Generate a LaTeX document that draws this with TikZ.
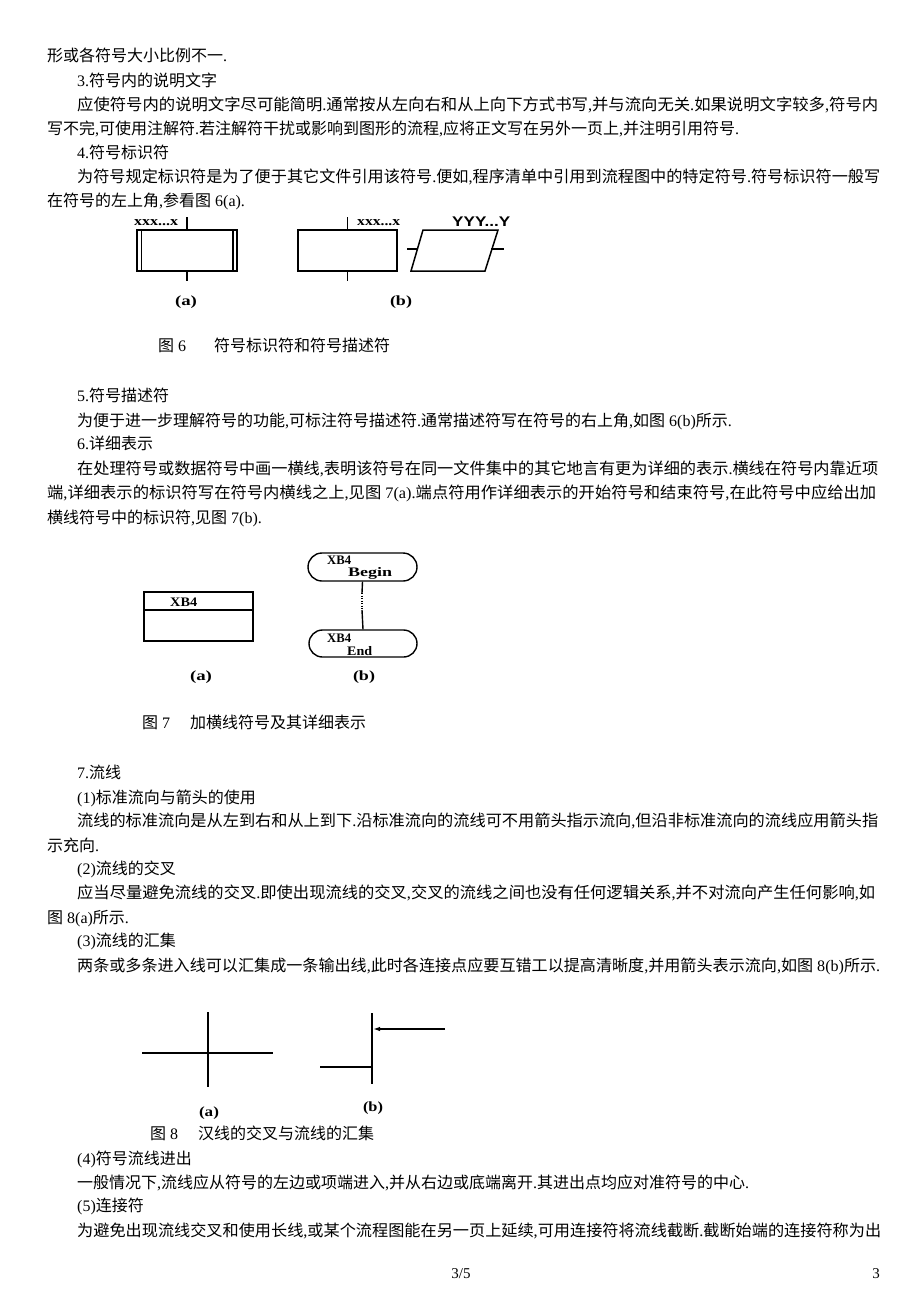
\documentclass[tikz,border=0pt]{standalone}
\usepackage{fontspec}
\usepackage{graphicx}
\setmainfont{Liberation Serif}
\newfontfamily\cjkf{Noto Sans CJK SC}
\newfontfamily\latserif{Liberation Serif}
\newfontfamily\latsans{Liberation Sans}
\newXeTeXintercharclass\mycjkclass
\count255="4E00
\loop
  \XeTeXcharclass\count255=\mycjkclass
  \advance\count255 by 1
\ifnum\count255<"A000 \repeat
\XeTeXinterchartokenstate=1
\XeTeXinterchartoks 0 \mycjkclass = {\cjkf}
\XeTeXinterchartoks 4095 \mycjkclass = {\cjkf}
\XeTeXinterchartoks \mycjkclass 0 = {\latserif}
\XeTeXinterchartoks \mycjkclass 4095 = {\latserif}
\usetikzlibrary{shapes.misc,arrows.meta}
\newcommand\fitw[2]{\resizebox{#1pt}{\height}{#2}}
\begin{document}
\begin{tikzpicture}[x=1pt,y=-1pt,
  txt/.style={anchor=base west, inner sep=0pt, font=\fontsize{16}{16}\selectfont},
  captxt/.style={anchor=base west, inner sep=0pt, font=\fontsize{16}{16}\selectfont},
  sub/.style={inner sep=0pt, font=\latserif\bfseries\fontsize{14}{14}\selectfont},
  idl/.style={inner sep=0pt, anchor=west, font=\latserif\bfseries\fontsize{13}{13}\selectfont},
  fl/.style={line width=1.5pt},
  box/.style={draw, line width=1.5pt, inner sep=0pt},
  term/.style={draw, line width=1.4pt, rounded rectangle, inner sep=0pt}]
\fill[white] (0,0) rectangle (920,1302);
\useasboundingbox (0,0) rectangle (920,1302);

% --- text block 1
\node[txt] (l1) at (47,61) {形或各符号大小比例不一.};
\node[txt] (l2) at (77,86) {3.符号内的说明文字};
\node[txt] (l3) at (77,110) {\fitw{801}{应使符号内的说明文字尽可能简明.通常按从左向右和从上向下方式书写,并与流向无关.如果说明文字较多,符号内}};
\node[txt] (l4) at (47,134) {写不完,可使用注解符.若注解符干扰或影响到图形的流程,应将正文写在另外一页上,并注明引用符号.};
\node[txt] (l5) at (77,158) {4.符号标识符};
\node[txt] (l6) at (77,182) {\fitw{803}{为符号规定标识符是为了便于其它文件引用该符号.便如,程序清单中引用到流程图中的特定符号.符号标识符一般写}};
\node[txt] (l7) at (47,206) {在符号的左上角,参看图 6(a).};

% --- figure 6 (a)
\node[box, minimum width=100pt, minimum height=41pt] (f6a) at (187,250.5) {};
\draw[line width=1.5pt] ([xshift=5pt]f6a.north west) -- ([xshift=5pt]f6a.south west);
\draw[line width=1.5pt] ([xshift=-5pt]f6a.north east) -- ([xshift=-5pt]f6a.south east);
\draw[fl] (f6a.north) -- ++(0,-12) coordinate (f6at);
\draw[fl] (f6a.south) -- ++(0,9) coordinate (f6ab);
\node[idl] (f6aid) at (134,223) {\fitw{44}{xxx...x}};
\node[sub] (f6al) at (186,302) {\fitw{22}{(a)}};

% --- figure 6 (b)
\node[box, minimum width=99pt, minimum height=41pt] (f6b) at (347.5,250.5) {};
\draw[fl] (f6b.north) -- ++(0,-12) coordinate (f6bt);
\draw[fl] (f6b.south) -- ++(0,9) coordinate (f6bb);
\node[idl] (f6bid) at (357,223) {\fitw{43}{xxx...x}};
\coordinate (p1) at (411,271);
\coordinate (p2) at (423,230);
\coordinate (p3) at (498,230);
\coordinate (p4) at (485,271);
\draw[fl] (p1) -- (p2) -- (p3) -- (p4) -- cycle;
\coordinate (pl) at (417,249);
\coordinate (pr) at (491,249);
\draw[fl] (pl) -- ++(-10,0) coordinate (plo);
\draw[fl] (pr) -- ++(13,0) coordinate (pro);
\node[inner sep=0pt, anchor=west, font=\latsans\bfseries\fontsize{14}{14}\selectfont] (f6desc) at (452,222) {\fitw{58}{YYY...Y}};
\node[sub] (f6bl) at (401,302) {\fitw{22}{(b)}};

\node[captxt] (c6) at (158,351) {图 6\hspace{28pt}符号标识符和符号描述符};

% --- text block 2
\node[txt] (l8) at (77,401) {5.符号描述符};
\node[txt] (l9) at (77,426) {为便于进一步理解符号的功能,可标注符号描述符.通常描述符写在符号的右上角,如图 6(b)所示.};
\node[txt] (l10) at (77,449) {6.详细表示};
\node[txt] (l11) at (77,474) {\fitw{801}{在处理符号或数据符号中画一横线,表明该符号在同一文件集中的其它地言有更为详细的表示.横线在符号内靠近项}};
\node[txt] (l12) at (47,498) {\fitw{829}{端,详细表示的标识符写在符号内横线之上,见图 7(a).端点符用作详细表示的开始符号和结束符号,在此符号中应给出加}};
\node[txt] (l13) at (47,523) {横线符号中的标识符,见图 7(b).};

% --- figure 7 (a)
\node[draw, line width=1.2pt, inner sep=0pt, minimum width=109pt, minimum height=49pt] (f7a) at (198.5,616.5) {};
\draw[line width=1.2pt] (144,610) -- (253,610);
\node[idl] (f7aid) at (170,602) {\fitw{27}{XB4}};
\node[sub] (f7al) at (201,677) {\fitw{22}{(a)}};

% --- figure 7 (b)
\node[term, minimum width=109pt, minimum height=28pt] (tb) at (362.5,567) {};
\node[term, minimum width=108pt, minimum height=27pt] (te) at (363,643.5) {};
\node[idl] (tbid) at (327,560) {\fitw{24}{XB4}};
\node[idl] (tbtx) at (348,573) {\fitw{44}{Begin}};
\node[idl] (teid) at (327,638) {\fitw{24}{XB4}};
\node[idl] (tetx) at (347,651) {\fitw{25}{End}};
\coordinate (d1) at (362,593);
\coordinate (d2) at (362,610);
\draw[line width=1.4pt] (tb.south) -- (d1);
\draw[line width=1.6pt, dash pattern=on 1.2pt off 1.3pt] (d1) -- (d2);
\draw[line width=1.4pt] (d2) -- (te.north);
\node[sub] (f7bl) at (364,677) {\fitw{22}{(b)}};

\node[captxt] (c7) at (142,728) {图 7\hspace{20pt}加横线符号及其详细表示};

% --- text block 3
\node[txt] (l14) at (77,778) {7.流线};
\node[txt] (l15) at (77,803) {(1)标准流向与箭头的使用};
\node[txt] (l16) at (77,826) {\fitw{801}{流线的标准流向是从左到右和从上到下.沿标准流向的流线可不用箭头指示流向,但沿非标准流向的流线应用箭头指}};
\node[txt] (l17) at (47,851) {示充向.};
\node[txt] (l18) at (77,874) {(2)流线的交叉};
\node[txt] (l19) at (77,898) {\fitw{798}{应当尽量避免流线的交叉.即使出现流线的交叉,交叉的流线之间也没有任何逻辑关系,并不对流向产生任何影响,如}};
\node[txt] (l20) at (47,923) {图 8(a)所示.};
\node[txt] (l21) at (77,946) {(3)流线的汇集};
\node[txt] (l22) at (77,971) {\fitw{803}{两条或多条进入线可以汇集成一条输出线,此时各连接点应要互错工以提高清晰度,并用箭头表示流向,如图 8(b)所示.}};

% --- figure 8 (a)
\coordinate (h1) at (142,1053);
\coordinate (h2) at (273,1053);
\coordinate (v1) at (208,1012);
\coordinate (v2) at (208,1087);
\draw[line width=1.8pt] (h1) -- (h2);
\draw[line width=1.8pt] (v1) -- (v2);
\node[sub] (f8al) at (209,1113) {\fitw{20}{(a)}};

% --- figure 8 (b)
\coordinate (bv1) at (372,1013);
\coordinate (bv2) at (372,1084);
\coordinate (bj1) at (372,1029);
\coordinate (bin) at (445,1029);
\coordinate (bj2) at (372,1067);
\coordinate (bl) at (320,1067);
\draw[line width=1.8pt] (bv1) -- (bv2);
\draw[line width=1.5pt, -{Latex[length=7pt,width=4.5pt]}] (bin) -- ([xshift=1pt]bj1);
\draw[line width=1.6pt] (bl) -- (bj2);
\node[sub] (f8bl) at (373,1108) {\fitw{20}{(b)}};

\node[captxt] (c8) at (150,1139) {图 8\hspace{20pt}汉线的交叉与流线的汇集};

% --- text block 4
\node[txt] (l23) at (77,1164) {(4)符号流线进出};
\node[txt] (l24) at (77,1188) {一般情况下,流线应从符号的左边或项端进入,并从右边或底端离开.其进出点均应对准符号的中心.};
\node[txt] (l25) at (77,1211) {(5)连接符};
\node[txt] (l26) at (77,1236) {\fitw{804}{为避免出现流线交叉和使用长线,或某个流程图能在另一页上延续,可用连接符将流线截断.截断始端的连接符称为出}};

\node[inner sep=0pt, anchor=base, font=\latserif\fontsize{15}{15}\selectfont] (pg1) at (461,1278) {3/5};
\node[inner sep=0pt, anchor=base, font=\latserif\fontsize{15}{15}\selectfont] (pg2) at (876,1278) {3};
\end{tikzpicture}
\end{document}
